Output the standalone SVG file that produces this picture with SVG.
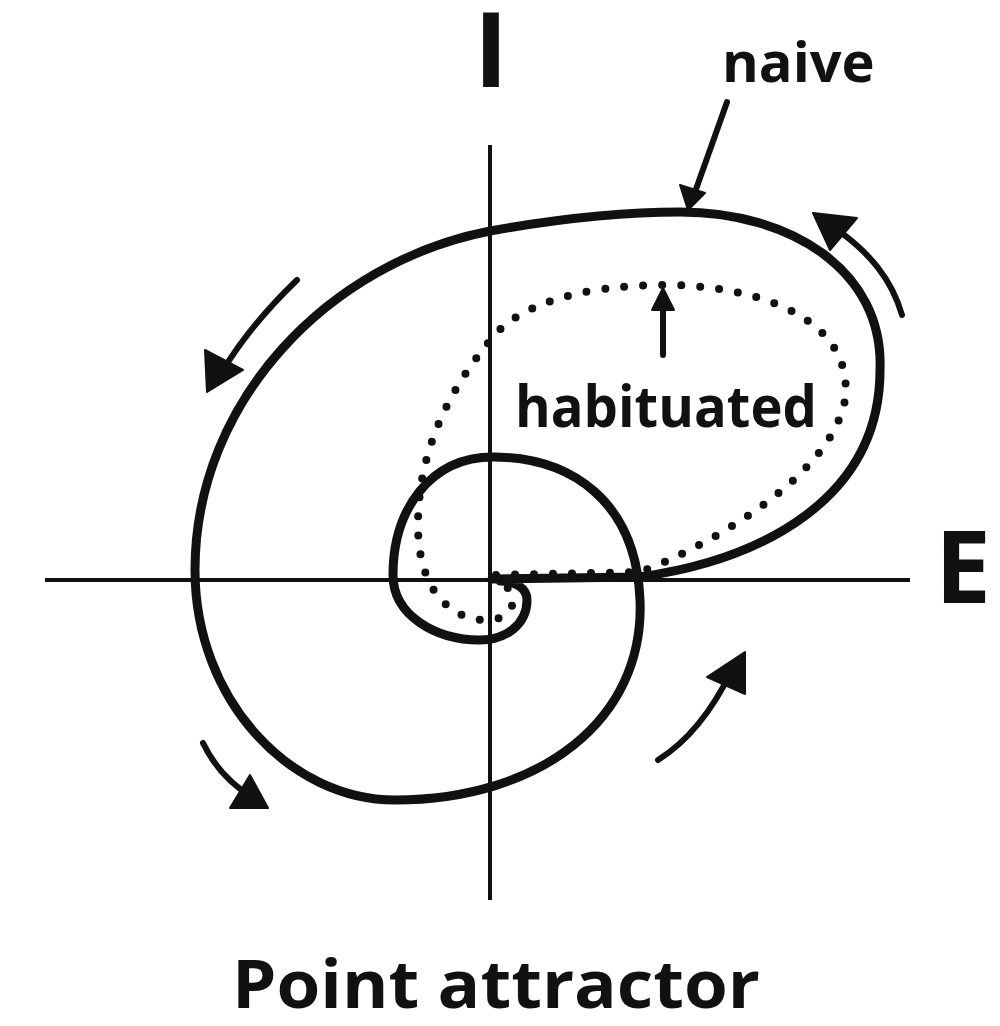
<svg xmlns="http://www.w3.org/2000/svg" width="1000" height="1026" viewBox="0 0 1000 1026">
<style>
.lbl{font-family:"Open Sans","Liberation Sans",sans-serif;font-weight:700;fill:#111}
.axis{stroke:#111;stroke-width:4;fill:none}
.traj{stroke:#111;stroke-width:9;fill:none;stroke-linecap:round;stroke-linejoin:round}
.dots{stroke:#111;stroke-width:8;fill:none;stroke-linecap:round;stroke-dasharray:0 19}
.arr{stroke:#111;stroke-width:6;fill:none;stroke-linecap:round}
.head{fill:#111;stroke:#111;stroke-width:2;stroke-linejoin:round}
</style>
<rect width="1000" height="1026" fill="#fff"/>
<g id="axes">
<line class="axis" x1="490" y1="145" x2="490" y2="900"/>
<line class="axis" x1="45" y1="580" x2="910" y2="580"/>
<text class="lbl" x="491" y="87" font-size="104" text-anchor="middle">I</text>
<text class="lbl" x="935" y="603" font-size="100">E</text>
</g>
<g id="naive">
<path class="traj" d="M492,579 L640,577 C760,560 880,500 880,370 C884,270 790,212 680,212 C610,212 540,222 490,231 C330,262 195,400 195,570 C195,700 290,800 395,800 C540,800 645,720 640,600 C636,500 570,457 493,457 C430,457 393,510 393,575 C393,615 435,640 480,640 C505,640 527,625 527,600 C527,588 515,581 500,581"/>
<path class="arr" d="M727,102 L695,192"/>
<polygon class="head" points="688,210 680,185 705,193"/>
<text class="lbl" x="722" y="82" font-size="56">naive</text>
</g>
<g id="habituated">
<path class="dots" d="M496,575 L640,572 C700,550 830,480 845,400 C855,320 760,285 665,285 C580,285 515,305 488,343 C450,390 418,450 418,525 C418,600 460,622 490,620 C515,618 520,595 502,583"/>
<path class="arr" d="M663,355 L663,305"/>
<polygon class="head" points="663,288 652,310 674,310"/>
<text class="lbl" x="515" y="427" font-size="58" textLength="302" lengthAdjust="spacingAndGlyphs">habituated</text>
</g>
<g id="flow-arrows">
<path class="arr" d="M902,315 C892,280 870,252 832,226"/>
<polygon class="head" points="813,213 857,218 830,250"/>
<path class="arr" d="M297,280 C268,308 242,338 222,372"/>
<polygon class="head" points="207,392 205,350 243,370"/>
<path class="arr" d="M203,743 C215,768 232,785 252,797"/>
<polygon class="head" points="268,808 230,808 250,775"/>
<path class="arr" d="M658,760 C690,740 715,705 732,670"/>
<polygon class="head" points="745,652 745,694 707,677"/>
</g>
<text class="lbl" x="496" y="1008" font-size="66" text-anchor="middle" textLength="528" lengthAdjust="spacingAndGlyphs">Point attractor</text>
</svg>
